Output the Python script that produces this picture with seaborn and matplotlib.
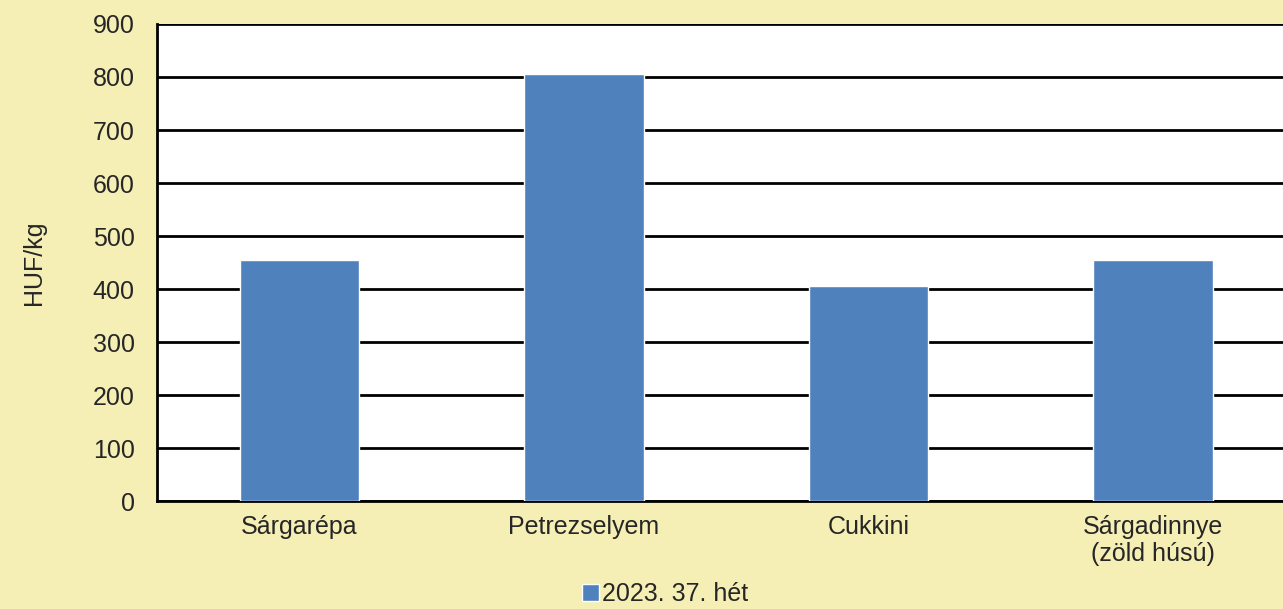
import pandas as pd
import seaborn as sns
import matplotlib.pyplot as plt

termekek = ["Sárgarépa", "Petrezselyem", "Cukkini", "Sárgadinnye\n(zöld húsú)"]
arak = [455, 805, 405, 455]
sorozat = "2023. 37. hét"

df = pd.DataFrame({"termek": termekek, "ar": arak, "het": sorozat})

sns.set_style("white")
plt.rcParams["font.family"] = ["Liberation Sans", "DejaVu Sans"]

bg = "#F5EFB5"
fs = 18
fig = plt.figure(figsize=(12.83, 6.09), dpi=100, facecolor=bg)
ax = fig.add_axes([0.1224, 0.1773, 0.887, 0.7833])
ax.set_facecolor("white")

sns.barplot(data=df, x="termek", y="ar", hue="het", palette=["#4F81BD"],
            width=0.42, saturation=1, ax=ax, zorder=3, legend=False)

ax.set_ylim(0, 900)
ax.set_yticks(range(0, 901, 100))
ax.set_xlim(-0.5, 3.5)
ax.yaxis.grid(True, color="black", linewidth=2, zorder=0)
ax.set_axisbelow(True)
for s in ["top", "right"]:
    ax.spines[s].set_visible(False)
for s in ["left", "bottom"]:
    ax.spines[s].set_color("black")
    ax.spines[s].set_linewidth(2)
ax.tick_params(axis="y", length=5, width=2, color="black", labelsize=fs, pad=11)
ax.tick_params(axis="x", length=0, labelsize=fs, pad=10)
for t in ax.get_xticklabels():
    t.set_linespacing(1.15)
ax.set_xlabel("")
ax.set_ylabel("HUF/kg", fontsize=fs, labelpad=34)

h = plt.Rectangle((0, 0), 1, 1, facecolor="#4F81BD")
fig.legend([h], [sorozat], loc="center", bbox_to_anchor=(0.518, 0.024),
           frameon=False, fontsize=fs, handlelength=0.7, handleheight=0.7,
           handletextpad=0.1, borderpad=0, borderaxespad=0)

fig.savefig("out.png", dpi=100, facecolor=bg)
